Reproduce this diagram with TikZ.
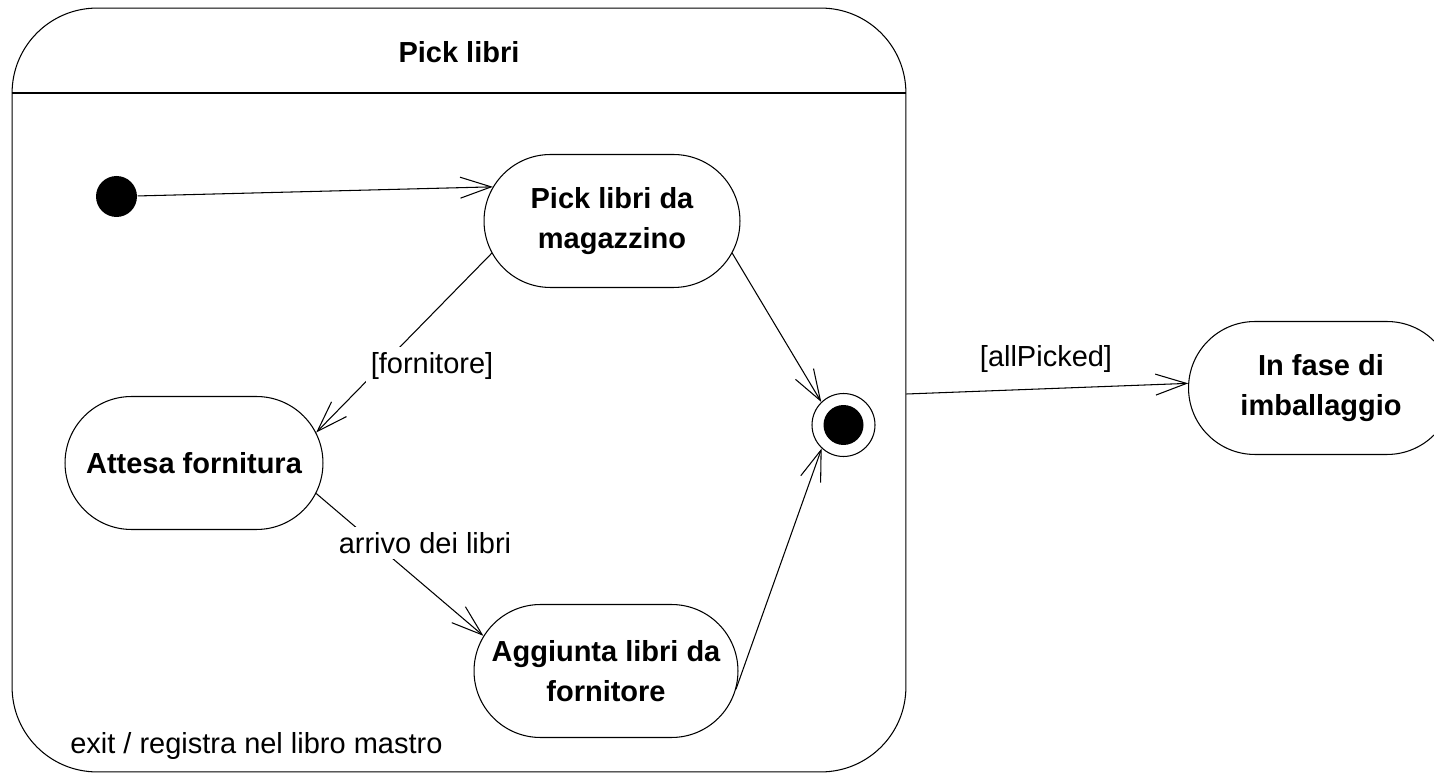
\documentclass[tikz,border=0pt]{standalone}
\usepackage{fontspec}
\setmainfont{Liberation Sans}
\usetikzlibrary{arrows.meta, shapes.misc}

\begin{document}
\begin{tikzpicture}[x=0.02cm, y=-0.02cm, line width=0.6pt, state/.style={draw, rounded rectangle, minimum height=2.66cm, inner sep=0pt, align=center, font=\fontsize{16.5}{22.7}\selectfont\bfseries}, txt/.style={inner sep=1pt, font=\fontsize{16.5}{22.7}\selectfont}, n/.style={-{Straight Barb[length=0.62cm, width=0.42cm]}}]
            \useasboundingbox (0,0) rectangle (1434,776);
            % composite state
            \node[draw, rounded corners=1.7cm, minimum width=17.88cm, minimum height=15.28cm] (pick) at (459,390) {};
            \draw (pick.west |- 0,93) -- (pick.east |- 0,93);
            \node[txt, font=\fontsize{16.5}{22.7}\selectfont\bfseries] (title) at (459,52) {Pick libri};

            % nodes
            \node[circle, fill, minimum size=0.82cm, inner sep=0pt] (init) at (116.5,196.5) {};
            \node[circle, draw, fill=white, minimum size=1.26cm, inner sep=0pt] (final) at (843.5,425) {};
            \node[circle, fill, minimum size=0.8cm, inner sep=0pt] (finaldot) at (final) {};

            \node[state, minimum width=5.12cm] (pickmag) at (612,221) {Pick libri da\\magazzino};
            \node[state, minimum width=5.16cm] (attesa) at (194,463) {Attesa fornitura};
            \node[state, minimum width=5.28cm] (aggiunta) at (606,671) {Aggiunta libri da\\fornitore};
            \node[state, minimum width=5.3cm] (imball) at (1321,388) {In fase di\\imballaggio};

            % edges
            \draw [n] (init) -- (pickmag.164);
            \draw [n] (pickmag.195) -- (attesa.14);
            \draw [n] (pickmag.345) -- (final.134);
            \draw [n] (attesa.346) -- (aggiunta.164);
            \draw [n] (aggiunta.352) -- (final.227);
            \draw [n] (pick.east |- 0,394) -- (imball.178);

            % labels
            \node[txt, fill=white, inner sep=3pt] (lblforn) at (432,366) {[fornitore]};
            \node[txt, fill=white, inner sep=3pt] (lblarrivo) at (425,543) {arrivo dei libri};
            \node[txt] (lblpicked) at (1046,359) {[allPicked]};
            \node[txt, anchor=west] (lblexit) at (68,746) {exit / registra nel libro mastro};
        \end{tikzpicture}
\end{document}
